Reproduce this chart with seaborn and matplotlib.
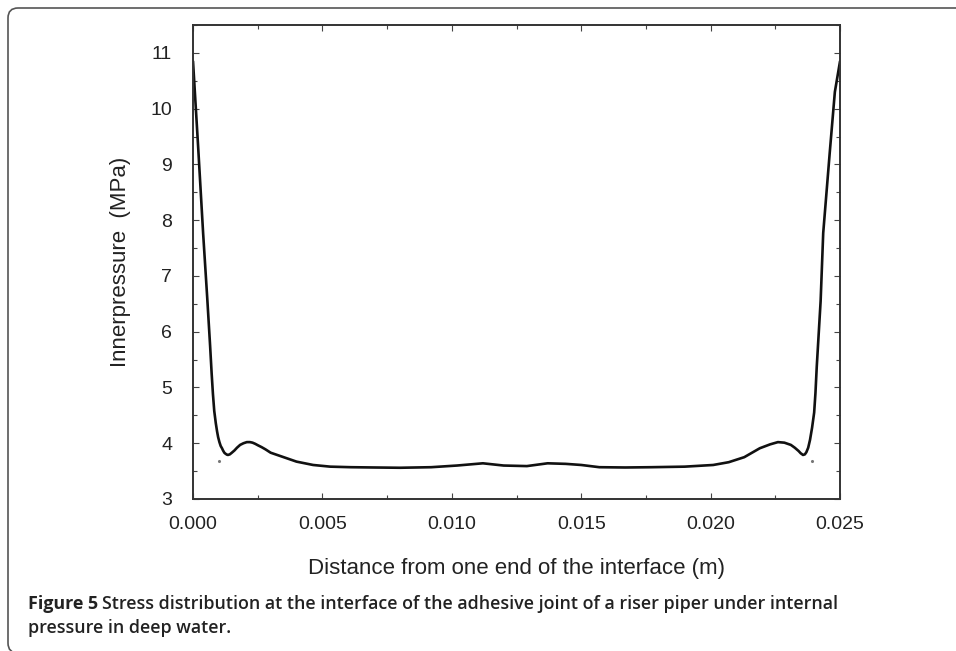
import numpy as np
import pandas as pd
import seaborn as sns
import matplotlib.pyplot as plt
from matplotlib.patches import FancyBboxPatch
from matplotlib.transforms import IdentityTransform
from matplotlib.ticker import MultipleLocator

# values: distance (m) vs inner pressure (MPa)
distance = [0.0, 0.0002, 0.00039, 0.00055, 0.00066, 0.00072, 0.00077, 0.00082, 0.00088,
            0.00093, 0.00097, 0.00102, 0.00107, 0.00112, 0.00116, 0.00121, 0.00126,
            0.00131, 0.00135, 0.00142, 0.00150, 0.00160, 0.00170, 0.00182, 0.00195,
            0.00208, 0.00220, 0.00230, 0.00240, 0.00252, 0.00265, 0.0028, 0.0030,
            0.0035, 0.0040, 0.00464, 0.0053, 0.0061, 0.0070, 0.0080, 0.0092, 0.0102,
            0.0112, 0.0120, 0.0129, 0.0137, 0.0144, 0.0150, 0.0157, 0.0167, 0.0177,
            0.0190, 0.0201, 0.0207, 0.0213, 0.0219, 0.0223, 0.0226, 0.02285, 0.0231,
            0.02325, 0.0234, 0.02348, 0.02357, 0.02364, 0.0237, 0.02377, 0.02384,
            0.02392, 0.0240, 0.02405, 0.0241, 0.02425, 0.02435, 0.0246, 0.0248, 0.0250]
pressure = [10.85, 9.30, 7.77, 6.60, 5.75, 5.25, 4.88, 4.58, 4.36,
            4.21, 4.11, 4.02, 3.95, 3.91, 3.87, 3.83, 3.81,
            3.795, 3.79, 3.80, 3.83, 3.87, 3.92, 3.97, 4.00,
            4.02, 4.02, 4.01, 3.99, 3.96, 3.93, 3.89, 3.83,
            3.75, 3.67, 3.61, 3.58, 3.57, 3.565, 3.56, 3.57, 3.60,
            3.64, 3.60, 3.59, 3.64, 3.63, 3.61, 3.57, 3.565, 3.57,
            3.58, 3.61, 3.66, 3.75, 3.91, 3.98, 4.02, 4.01, 3.97,
            3.92, 3.86, 3.82, 3.79, 3.80, 3.84, 3.92, 4.06,
            4.28, 4.55, 4.90, 5.37, 6.55, 7.77, 9.20, 10.30, 10.85]

stray_x = [0.00100, 0.02390]
stray_y = [3.68, 3.68]

x_ticks = [0.0, 0.005, 0.010, 0.015, 0.020, 0.025]
x_tick_labels = ['0.000', '0.005', '0.010', '0.015', '0.020', '0.025']
y_ticks = [3, 4, 5, 6, 7, 8, 9, 10, 11]

df = pd.DataFrame({'Distance': distance, 'Pressure': pressure})

sns.set_style('white')
plt.rcParams['font.family'] = ['Liberation Sans', 'DejaVu Sans']

fig = plt.figure(figsize=(9.56, 6.51), dpi=100)
ax = fig.add_axes([0.2019, 0.2335, 0.6768, 0.7281])

sns.lineplot(data=df, x='Distance', y='Pressure', ax=ax, color='#111111',
             linewidth=1.9, sort=False)
ax.scatter(stray_x, stray_y, s=1.5, color='#777777', zorder=3)

ax.set_xlim(0, 0.025)
ax.set_ylim(3, 11.5)
ax.set_xticks(x_ticks)
ax.set_xticklabels(x_tick_labels)
ax.set_yticks(y_ticks)
ax.xaxis.set_minor_locator(MultipleLocator(0.0025))
ax.yaxis.set_minor_locator(MultipleLocator(0.5))

ax.tick_params(which='both', direction='in', top=True, right=True, bottom=True, left=True,
               color='#444444', width=0.8, labelsize=14, labelcolor='#222222')
ax.tick_params(which='major', length=4)
ax.tick_params(which='minor', length=3)
ax.tick_params(axis='x', which='major', pad=12)
ax.tick_params(axis='y', which='major', pad=15)

for s in ax.spines.values():
    s.set_visible(True)
    s.set_color('#333333')
    s.set_linewidth(1.4)

ax.set_xlabel('Distance from one end of the interface (m)', fontsize=16, labelpad=18,
              color='#222222')
ax.set_ylabel('Innerpressure  (MPa)', fontsize=16, labelpad=14, color='#222222')

# caption below the chart
cap_font = ['Open Sans', 'DejaVu Sans']
cap_size = 12.9
t1 = fig.text(28 / 956, 1 - 604 / 651, 'Figure 5', fontsize=cap_size, fontweight='bold',
              family=cap_font, va='center', color='#222222')
fig.canvas.draw()
bb = t1.get_window_extent(renderer=fig.canvas.get_renderer())
fig.text((bb.x1 + 4) / 956, 1 - 604 / 651,
         'Stress distribution at the interface of the adhesive joint of a riser piper under internal',
         fontsize=cap_size, fontweight='semibold', family=cap_font, va='center', color='#222222')
fig.text(28 / 956, 1 - 628 / 651, 'pressure in deep water.', fontsize=cap_size,
         fontweight='semibold', family=cap_font, va='center', color='#222222')

# rounded frame around the figure panel
frame = FancyBboxPatch((8, -2), 990, 651 - 8 + 2, boxstyle='round,pad=0,rounding_size=10',
                       transform=IdentityTransform(), fill=False, edgecolor='#555555',
                       linewidth=1.2)
fig.patches.append(frame)

fig.savefig('out.png', dpi=100)
